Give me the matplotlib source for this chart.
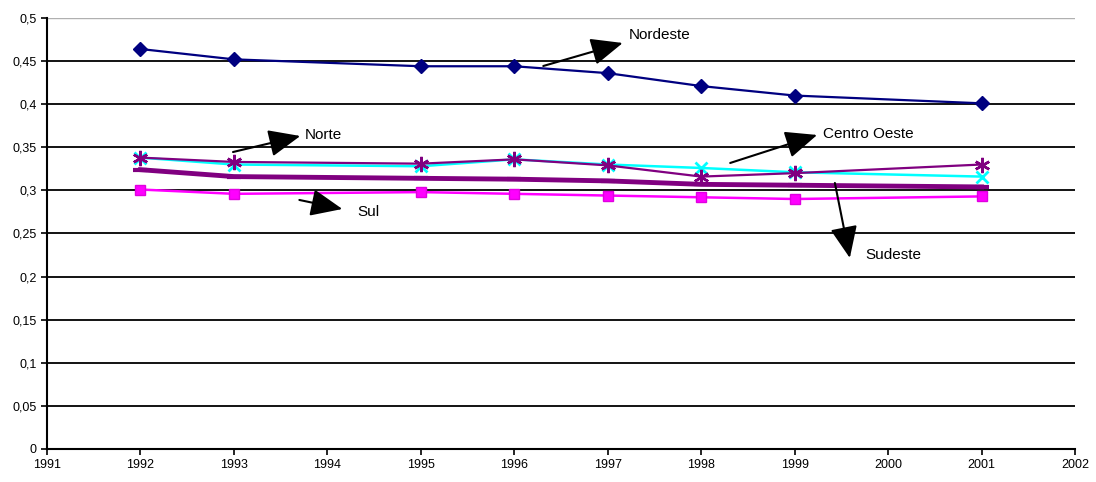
import matplotlib.pyplot as plt
from matplotlib.ticker import FixedLocator, FuncFormatter

plt.rcParams['font.family'] = ['Liberation Sans', 'DejaVu Sans']

# anos da PNAD (sem 1994 e 2000)
anos = [1992, 1993, 1995, 1996, 1997, 1998, 1999, 2001]

nordeste = [0.464, 0.452, 0.444, 0.444, 0.436, 0.421, 0.410, 0.401]
norte = [0.338, 0.330, 0.328, 0.336, 0.330, 0.326, 0.321, 0.316]
centro_oeste = [0.338, 0.333, 0.331, 0.336, 0.329, 0.316, 0.320, 0.330]
sudeste = [0.324, 0.316, 0.314, 0.313, 0.311, 0.307, 0.306, 0.304]
sul = [0.301, 0.296, 0.298, 0.296, 0.294, 0.292, 0.290, 0.293]

fig = plt.figure(figsize=(10.96, 4.82), dpi=100)
ax = fig.add_axes([0.0429, 0.0685, 0.9380, 0.8942])

# linhas de grade horizontais
for v in [0.05 * i for i in range(1, 10)]:
    ax.axhline(v, color='black', lw=1.3, zorder=1)
ax.axhline(0.5, color='#b0b0b0', lw=1.0, zorder=1)

ax.plot(anos, sul, color='#FF00FF', lw=1.8, marker='s', ms=7,
        mfc='#FF00FF', mec='#E000E0', zorder=3)
ax.plot(anos, sudeste, color='#800080', lw=3.5, marker='_', ms=10,
        mew=3, zorder=3)
ax.plot(anos, norte, color='#00FFFF', lw=1.8, marker='x', ms=9,
        mew=2, zorder=3)
ax.plot(anos, centro_oeste, color='#800080', lw=1.6, marker=(6, 2, 0),
        ms=11, mew=1.8, zorder=4)
ax.plot(anos, nordeste, color='#000080', lw=1.6, marker='D', ms=7,
        zorder=4)

ax.set_xlim(1991, 2002)
ax.set_ylim(0, 0.5)
ax.xaxis.set_major_locator(FixedLocator(range(1991, 2003)))
ax.yaxis.set_major_locator(FixedLocator([0.05 * i for i in range(11)]))
ax.yaxis.set_major_formatter(
    FuncFormatter(lambda v, p: ('%g' % round(v, 2)).replace('.', ',')))
ax.tick_params(labelsize=9, length=4, width=1.2, color='black')

for s in ['top', 'right']:
    ax.spines[s].set_visible(False)
for s in ['left', 'bottom']:
    ax.spines[s].set_linewidth(1.5)

# rótulos das regiões com setas
seta = dict(arrowstyle='-|>,head_length=0.7,head_width=0.3',
            mutation_scale=28, lw=1.5, color='black',
            shrinkA=0, shrinkB=0)
rotulos = [
    ('Nordeste', (1996.31, 0.4443), (1997.16, 0.471), (1997.22, 0.480)),
    ('Norte', (1992.99, 0.3445), (1993.71, 0.3631), (1993.76, 0.3643)),
    ('Sul', (1993.70, 0.2889), (1994.16, 0.2784), (1994.32, 0.2749)),
    ('Centro Oeste', (1998.31, 0.3318), (1999.24, 0.3643), (1999.30, 0.3654)),
    ('Sudeste', (1999.43, 0.3086), (1999.59, 0.2216), (1999.76, 0.2251)),
]
for nome, cauda, ponta, pos in rotulos:
    ax.annotate('', xy=ponta, xytext=cauda, arrowprops=seta, zorder=5)
    ax.text(pos[0], pos[1], nome, fontsize=11, va='center', ha='left')

fig.savefig('out.png', dpi=100)
